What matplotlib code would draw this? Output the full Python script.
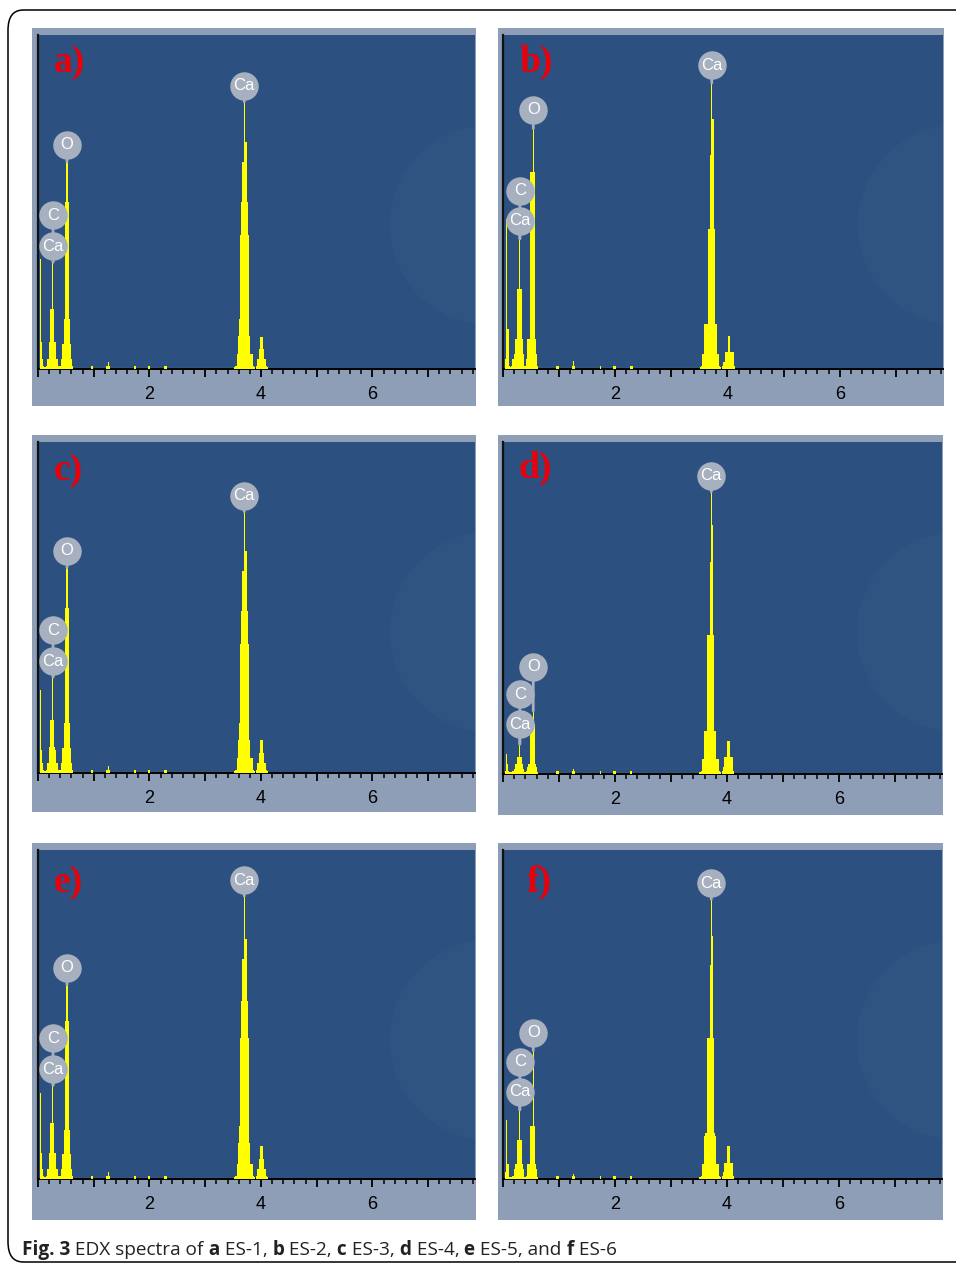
import numpy as np
import matplotlib
matplotlib.use("Agg")
import matplotlib.pyplot as plt
from matplotlib.patches import Rectangle, Ellipse, FancyBboxPatch
from matplotlib.ticker import MultipleLocator, FuncFormatter
from matplotlib.transforms import offset_copy

# channel energies (keV)
e_low = [0.04, 0.06, 0.08, 0.10, 0.12, 0.14, 0.16, 0.18, 0.20, 0.22,
         0.24, 0.26, 0.28, 0.30, 0.32, 0.34, 0.36, 0.38, 0.40, 0.42,
         0.44, 0.46, 0.48, 0.50, 0.52, 0.54, 0.56, 0.58, 0.60, 0.62]
e_ka = [3.52, 3.54, 3.56, 3.58, 3.60, 3.62, 3.64, 3.66, 3.68, 3.70,
        3.72, 3.74, 3.76, 3.78, 3.80, 3.82, 3.84, 3.86, 3.88]
e_kb = [3.92, 3.94, 3.96, 3.98, 4.00, 4.02, 4.04, 4.06, 4.08, 4.10, 4.12]
e_minor = [0.96, 0.98, 1.24, 1.26, 1.28, 1.74, 1.98, 2.00, 2.28, 2.30]
floor_range = [0.62, 3.5]

# counts (% of full scale) per sample
a_low = [33, 8, 3, 1, 0.5, 0.5, 1, 3, 8, 18, 18, 32, 18, 8, 8, 3, 1, 1, 1, 3,
         7.5, 7.5, 15, 50, 62, 50, 15, 7.5, 3, 1]
b_low = [3, 45, 12, 12, 1, 0.5, 1, 3, 4.5, 9, 9, 24, 24, 39, 24, 9, 4.5, 1, 1, 3,
         9, 9, 9, 59, 59, 72, 59, 9, 4.5, 1]
c_low = [25, 7, 3, 1, 0.5, 0.5, 1, 3, 8, 16, 16, 29, 16, 8, 7, 3, 1, 1, 1, 3,
         7.5, 7.5, 15, 50, 62, 50, 15, 7.5, 3, 1]
d_low = [1, 6, 3, 1, 0.5, 0.5, 0.5, 1, 1.5, 3, 3, 5, 5, 9, 5, 3, 1.5, 0.5, 0.5, 1,
         2, 3, 3, 15, 15, 19, 15, 3, 2, 0.5]
e_low_c = [26, 8, 3, 1, 0.5, 0.5, 1, 3, 8, 17, 17, 28.5, 17, 8, 8, 3, 1, 1, 1, 3,
           7.5, 7.5, 15, 48, 59, 48, 15, 7.5, 3, 1]
f_low = [2, 18, 4.5, 4.5, 0.5, 0.5, 0.5, 1, 3, 4.5, 4.5, 12, 12, 21, 12, 4.5, 3, 0.5, 0.5, 1,
         4.5, 4.5, 4.5, 16, 16, 39, 16, 4.5, 3, 0.5]

a_ka = [0.5, 1, 1, 4.5, 10, 15, 40, 50, 62, 80, 68, 68, 50, 40, 10, 4.5, 4.5, 1, 0.5]
b_ka = [0.5, 1, 4.5, 4.5, 13.5, 13.5, 13.5, 42, 42, 64, 85.6, 75, 42, 13.5, 13.5, 4.5, 4.5, 1, 0.5]
c_ka = [0.5, 1, 1, 4.5, 10, 15, 39, 49, 61, 79, 67, 67, 49, 39, 10, 4.5, 4.5, 1, 0.5]
d_ka = [0.5, 1, 4.5, 4.5, 13, 13, 13, 42, 42, 64, 85, 75, 42, 13, 13, 4.5, 4.5, 1, 0.5]
e_ka_c = [0.5, 1, 1, 4.5, 11, 16, 43, 54, 67, 86, 73, 73, 54, 43, 11, 4.5, 4.5, 1, 0.5]
f_ka = [0.5, 1, 4.5, 4.5, 13, 14, 14, 43, 43, 65, 85, 74, 43, 14, 13, 4.5, 4.5, 1, 0.5]

a_kb = [1, 3, 3, 6, 9.5, 9.5, 6, 3, 3, 1, 0.5]
b_kb = [1, 2, 5, 5, 5, 10, 10, 5, 5, 5, 1]
c_kb = [1, 3, 3, 6, 10, 10, 6, 3, 3, 1, 0.5]
d_kb = [1, 2, 5, 5, 5, 10, 10, 5, 5, 5, 1]
e_kb_c = [1, 3, 3, 6, 10, 10, 6, 3, 3, 1, 0.5]
f_kb = [1, 2, 5, 5, 5, 10, 10, 5, 5, 5, 1]

a_minor = [1, 0.8, 1, 2, 1, 1, 1, 0.8, 1, 0.8]
b_minor = [0.8, 0.8, 1, 2.5, 1, 1, 1, 0.8, 1, 0.8]
c_minor = [1, 0.8, 1, 2, 1, 1, 1, 0.8, 0.8, 0.8]
d_minor = [0.8, 0.8, 0.8, 1.5, 0.8, 0.8, 1, 0.8, 1, 0.8]
e_minor_c = [1, 0.8, 1, 2, 1, 1, 1, 0.8, 1, 0.8]
f_minor = [0.8, 0.8, 0.8, 1.5, 0.8, 0.8, 1, 0.8, 1, 0.8]

letters = ["a)", "b)", "c)", "d)", "e)", "f)"]
# peak labels: element, energy, peak top, offset of circle above peak (px)
a_lab = [("Ca", 3.70, 80, 16), ("O", 0.52, 62, 17), ("Ca", 0.27, 32, 16), ("C", 0.27, 32, 47)]
b_lab = [("Ca", 3.72, 85.6, 18), ("O", 0.54, 72, 19), ("Ca", 0.30, 39, 18), ("C", 0.30, 39, 48)]
c_lab = [("Ca", 3.70, 79, 16), ("O", 0.52, 62, 17), ("Ca", 0.27, 29, 16), ("C", 0.27, 29, 47)]
d_lab = [("Ca", 3.72, 85, 16), ("O", 0.54, 19, 44), ("Ca", 0.30, 9, 20), ("C", 0.30, 9, 50)]
e_lab = [("Ca", 3.70, 86, 16), ("O", 0.52, 59, 17), ("Ca", 0.27, 28.5, 16), ("C", 0.27, 28.5, 47)]
f_lab = [("Ca", 3.72, 85, 16), ("O", 0.54, 39, 18), ("Ca", 0.30, 21, 18), ("C", 0.30, 21, 48)]

lows = [a_low, b_low, c_low, d_low, e_low_c, f_low]
kas = [a_ka, b_ka, c_ka, d_ka, e_ka_c, f_ka]
kbs = [a_kb, b_kb, c_kb, d_kb, e_kb_c, f_kb]
minors = [a_minor, b_minor, c_minor, d_minor, e_minor_c, f_minor]
labs = [a_lab, b_lab, c_lab, d_lab, e_lab, f_lab]

# layout in pixels
W, H = 956, 1264
frames = [(32, 28, 476, 406), (498, 28, 944, 406), (32, 435, 476, 812),
          (498, 435, 943, 815), (32, 843, 476, 1220), (498, 843, 943, 1220)]
boxes = [(38, 35, 475, 369), (503, 35, 943, 369), (38, 442, 475, 773),
         (503, 442, 942, 774), (38, 850, 475, 1179), (503, 850, 942, 1179)]
letter_pos = [(54, 62), (520, 62), (54, 470), (518, 468), (54, 882), (527, 882)]

plot_bg = "#2c5080"
frame_bg = "#8e9eb7"
yellow = "#ffff00"
pin = "#a7b0be"

fig = plt.figure(figsize=(W / 100, H / 100), dpi=100)
fig.patch.set_facecolor("white")


def fx(x):
    return x / W


def fy(y):
    return 1 - y / H


# outer rounded border
border = FancyBboxPatch((fx(8), fy(1262)), fx(990) - fx(8), fy(10) - fy(1262),
                        boxstyle="round,pad=0,rounding_size=0.016",
                        transform=fig.transFigure, fill=False, ec="black", lw=1.1,
                        clip_on=False, zorder=-2)
fig.patches.append(border)

for i in range(6):
    x0, y0, x1, y1 = frames[i]
    fig.patches.append(Rectangle((fx(x0), fy(y1)), fx(x1) - fx(x0), fy(y0) - fy(y1),
                                 transform=fig.transFigure, fc=frame_bg, ec="none", zorder=-1))
    l, t, r, b = boxes[i]
    ax = fig.add_axes([fx(l), fy(b), fx(r) - fx(l), fy(t) - fy(b)])
    ax.set_zorder(1)
    ax.set_facecolor(plot_bg)

    # faint watermark circle
    wm = Ellipse((fx(r + 15), fy(t + 190)), 200 / W, 200 / H, transform=fig.transFigure,
                 fc="white", ec="none", alpha=0.025)
    ax.add_patch(wm)

    ax.plot(floor_range, [0.4, 0.4], color="#b8b820", lw=0.8, zorder=2)
    ax.bar(e_low, lows[i], width=0.023, color=yellow, lw=0, zorder=3)
    ax.bar(e_ka, kas[i], width=0.023, color=yellow, lw=0, zorder=3)
    ax.bar(e_kb, kbs[i], width=0.023, color=yellow, lw=0, zorder=3)
    ax.bar(e_minor, minors[i], width=0.023, color=yellow, lw=0, zorder=3)

    ax.set_xlim(0, 7.84)
    ax.set_ylim(0, 100)
    for s in ["top", "right"]:
        ax.spines[s].set_visible(False)
    ax.spines["bottom"].set_linewidth(1.4)
    ax.spines["left"].set_linewidth(1.6)
    ax.spines["left"].set_color("#111111")
    ax.set_yticks([])
    ax.xaxis.set_major_locator(MultipleLocator(1))
    ax.xaxis.set_minor_locator(MultipleLocator(0.2))
    ax.xaxis.set_major_formatter(FuncFormatter(
        lambda v, p: "%d" % v if (round(v) % 2 == 0 and v > 0.5) else ""))
    ax.tick_params(axis="x", which="major", direction="out", length=6, width=1.3,
                   pad=6, labelsize=13, colors="black")
    ax.tick_params(axis="x", which="minor", direction="out", length=3.5, width=1.1)
    for lbl in ax.get_xticklabels():
        lbl.set_fontfamily("Liberation Sans")

    # peak labels
    for el, en, top, off in labs[i]:
        tr = offset_copy(ax.transData, fig=fig, x=0, y=off * 0.72, units="points")
        ax.annotate("", xy=(en, top), xytext=(0, off * 0.72 - 8), textcoords="offset points",
                    arrowprops=dict(arrowstyle="-", color=pin, lw=2, shrinkA=0, shrinkB=0),
                    zorder=4)
        ax.plot([en], [top], marker="o", ms=20.5, mfc=pin, mec="none", transform=tr,
                clip_on=False, zorder=5)
        ax.text(en, top, el, transform=tr, ha="center", va="center", color="white",
                fontsize=12, family="Liberation Sans", zorder=6, clip_on=False)

    lx, ly = letter_pos[i]
    fig.text(fx(lx), fy(ly), letters[i], color="#e8000b", fontsize=27, fontweight="bold",
             family="Liberation Serif", ha="left", va="center", zorder=5)

# caption
pieces = [("Fig. 3", "bold"), (" EDX spectra of", "normal"), (" a", "bold"),
          (" ES-1,", "normal"), (" b", "bold"), (" ES-2,", "normal"), (" c", "bold"),
          (" ES-3,", "normal"), (" d", "bold"), (" ES-4,", "normal"), (" e", "bold"),
          (" ES-5, and", "normal"), (" f", "bold"), (" ES-6", "normal")]
rend = fig.canvas.get_renderer()
cx = fx(22)
for s, w in pieces:
    t = fig.text(cx, fy(1255), s, fontweight=w, fontsize=13.7, family="Open Sans",
                 color="#222222", va="baseline", ha="left")
    bb = t.get_window_extent(renderer=rend)
    cx += bb.width / fig.bbox.width

fig.savefig("out.png", dpi=100)
